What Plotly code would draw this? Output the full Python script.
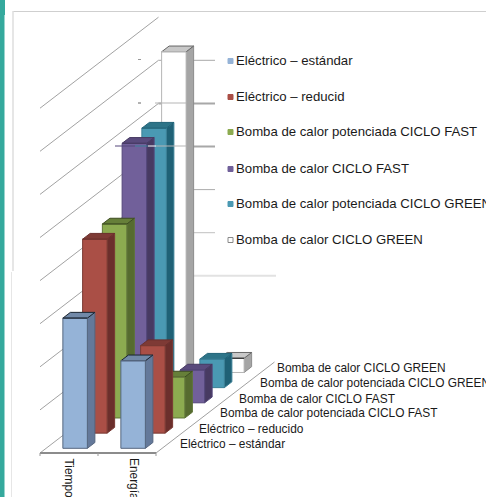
import plotly.graph_objects as go

categories = ["Tiempo", "Energía"]
series_names = ["Eléctrico – estándar", "Eléctrico – reducido",
                "Bomba de calor potenciada CICLO FAST", "Bomba de calor CICLO FAST",
                "Bomba de calor potenciada CICLO GREEN", "Bomba de calor CICLO GREEN"]
legend_names = ["Eléctrico – estándar", "Eléctrico – reducid",
                "Bomba de calor potenciada CICLO FAST", "Bomba de calor CICLO FAST",
                "Bomba de calor potenciada CICLO GREEN", "Bomba de calor CICLO GREEN"]
tiempo = [30.2, 45.0, 45.0, 60.2, 60.2, 74.4]
energia = [20.3, 20.3, 9.5, 7.6, 6.6, 3.3]
values = [tiempo, energia]
grid_values = [0, 10, 20, 30, 40, 50, 60, 70, 80]

front = ["#95b3d7", "#aa4f46", "#8cab50", "#71609a", "#4a99b3", "#ffffff"]
side = ["#64799a", "#6b2f2c", "#566b2f", "#473a62", "#1f6176", "#a5a5a5"]
top = ["#7189a8", "#7e3a35", "#667f39", "#594a7c", "#2d7488", "#c8c8c8"]
edge = ["#55667f", "#7a3a34", "#5f7538", "#54477a", "#3a7f95", "#b5b5b5"]
top_edge = ["#1a2430", "#6b2f2c", "#3c4c20", "#473a62", "#1f6176", "#555555"]

# oblique projection of the 3D chart box into page pixels
X0, Y0 = 40.0, 453.0
CAT_W = 58.0
DEPTH_X, DEPTH_Y = 118.5 / 6, -91.0 / 6
UNIT = 43.1 / 10
BAR_W = 24.5 / CAT_W
BAR_D = 0.38


def proj(c, d, v):
    return X0 + c * CAT_W + d * DEPTH_X, Y0 + d * DEPTH_Y - v * UNIT


fig = go.Figure()


def poly(pts, fill, line, width=1):
    fig.add_trace(go.Scatter(
        x=[p[0] for p in pts] + [pts[0][0]], y=[p[1] for p in pts] + [pts[0][1]],
        mode="lines", fill="toself" if fill else None, fillcolor=fill,
        line=dict(color=line, width=width), hoverinfo="skip", showlegend=False))


def seg(a, b, color, width=1):
    fig.add_trace(go.Scatter(x=[a[0], b[0]], y=[a[1], b[1]], mode="lines",
                             line=dict(color=color, width=width),
                             hoverinfo="skip", showlegend=False))


# wall gridlines
for g in grid_values:
    seg(proj(0, 0, g), proj(0, 6, g), "#a2a2a2", 1)

# back wall lines, running out to the legend box
back_col = {20: "#e2e2e2", 30: "#c0c0c0", 40: "#adadad", 50: "#a8a8a8", 60: "#a8a8a8", 70: "#a8a8a8"}
back_w = {20: 2, 30: 1, 40: 1, 50: 2, 60: 2, 70: 1}
back_end = {20: 276, 30: 215, 40: 215, 50: 215, 60: 215, 70: 215}
for g in back_col:
    a = proj(0, 6, g)
    seg(a, (back_end[g], a[1]), back_col[g], back_w[g])

# floor
seg(proj(0, 0, 0), proj(2, 0, 0), "#8c8c8c", 2)
seg(proj(2, 0, 0), proj(2, 6, 0), "#a0a0a0", 1)
for c in range(3):
    a = proj(c, 0, 0)
    seg(a, (a[0], a[1] + 3), "#999999", 1)

# bars, back to front
start = (1 - BAR_W) / 2
d0 = (1 - BAR_D) / 2
for s in range(5, -1, -1):
    for c in range(2):
        v = values[c][s]
        xl, xr = c + start, c + start + BAR_W
        dn, df = s + d0, s + d0 + BAR_D
        poly([proj(xr, dn, 0), proj(xr, df, 0), proj(xr, df, v), proj(xr, dn, v)], side[s], edge[s] if s != 5 else "#8c8c8c")
        poly([proj(xl, dn, v), proj(xr, dn, v), proj(xr, df, v), proj(xl, df, v)], top[s], top_edge[s] if s != 5 else "#666666")
        poly([proj(xl, dn, 0), proj(xr, dn, 0), proj(xr, dn, v), proj(xl, dn, v)], front[s], edge[s])
        if s == 5:
            line_col = "#111111" if c == 1 else "#b5b5b5"
        else:
            line_col = top_edge[s] if c == 0 else edge[s]
        seg(proj(xl, dn, v), proj(xr, dn, v), line_col, 1)

# back wall lines that print over the tallest bars in the source picture
seg((155, 103), (186, 103), "#b5b5b5", 1)
seg((148, 146), (156, 146), "#ffffff", 1)
seg((156, 146), (186, 146), "#b5b5b5", 1)
seg((115, 146), (135, 146), "#54477a", 1)
seg((135, 146), (148, 146), "#3a7f95", 1)
seg((138, 59.5), (141, 59.5), "#999999", 1)
seg((138, 103), (141, 103), "#999999", 1.5)

# legend
legend_y = [60, 96, 131, 168, 203, 239]
for i, name in enumerate(legend_names):
    fig.add_trace(go.Scatter(
        x=[230.5], y=[legend_y[i] + 1], mode="markers",
        marker=dict(symbol="square", size=5, color=front[i],
                    line=dict(color="#888888" if i == 5 else front[i], width=1)),
        hoverinfo="skip", showlegend=False))
    fig.add_annotation(x=233.5, y=legend_y[i], text=name, xref="x", yref="y", xanchor="left", yanchor="middle",
                       showarrow=False, font=dict(family="Liberation Sans", size=13.2, color="#1a1a1a"))

# depth axis labels
depth_x = [177.5, 196.5, 217.5, 236.5, 257.5, 275]
depth_y = [443.5, 428.5, 412.5, 398.5, 382.5, 368]
for i, name in enumerate(series_names):
    fig.add_annotation(x=depth_x[i], y=depth_y[i], text=name, xref="x", yref="y", xanchor="left", yanchor="middle",
                       showarrow=False, font=dict(family="Liberation Sans", size=11.9, color="#1a1a1a"))

# category labels
cat_label_x = [68.5, 134]
for c, name in enumerate(categories):
    fig.add_annotation(x=cat_label_x[c], y=456, text=name, xref="x", yref="y", xanchor="center", yanchor="top",
                       textangle=90, showarrow=False,
                       font=dict(family="Liberation Sans", size=11.9, color="#1a1a1a"))

shapes = [
    dict(type="rect", x0=0, x1=4.5, y0=0, y1=497, fillcolor="#35a99d", line_width=0, layer="below"),
    dict(type="rect", x0=0, x1=5, y0=0, y1=15, fillcolor="#35a99d", line_width=0, layer="below"),
    dict(type="line", x0=12.5, x1=486, y0=11.5, y1=11.5, line=dict(color="#cfcfcf", width=1), layer="below"),
    dict(type="line", x0=13, x1=13, y0=11.5, y1=271, line=dict(color="#e6e6e6", width=2), layer="below"),
    dict(type="line", x0=11.5, x1=11.5, y0=272, y1=497, line=dict(color="#e6e6e6", width=1), layer="below"),
]

fig.update_layout(
    width=486, height=497, autosize=False, margin=dict(l=0, r=0, t=0, b=0),
    paper_bgcolor="white", plot_bgcolor="white", showlegend=False, shapes=shapes,
    xaxis=dict(range=[0, 486], visible=False, fixedrange=True),
    yaxis=dict(range=[497, 0], visible=False, fixedrange=True),
)
fig.write_html("out.html", config=dict(displayModeBar=False),
               post_script="document.body.style.margin='0';document.body.style.overflow='hidden';")
